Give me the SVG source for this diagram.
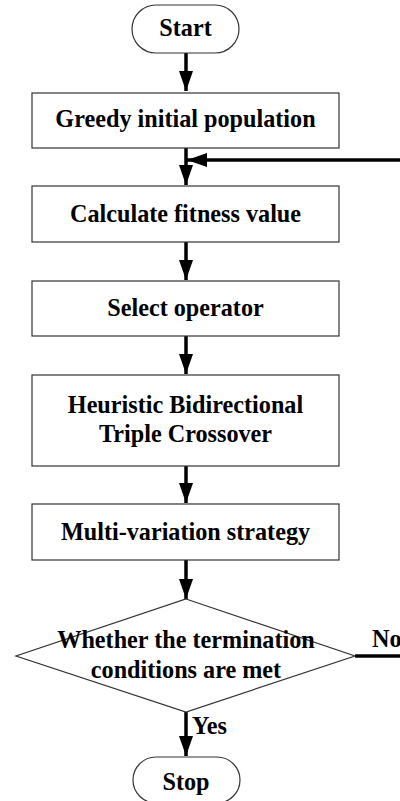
<svg xmlns="http://www.w3.org/2000/svg" width="400" height="801" viewBox="0 0 400 801">
<style>
.box{fill:#fff;stroke:#333;stroke-width:1.2}
.t{font-family:"Liberation Serif","Times New Roman",serif;font-weight:bold;font-size:24.2px;fill:#000;text-anchor:middle}
.lbl{font-family:"Liberation Serif","Times New Roman",serif;font-weight:bold;font-size:24.2px;fill:#000}
.c{fill:none;stroke:#000;stroke-width:3.5}
</style>
<defs>
<marker id="ah" markerUnits="userSpaceOnUse" markerWidth="20" markerHeight="14" refX="20" refY="7" orient="auto">
<path d="M0,0 L20,7 L0,14 z" fill="#000"/>
</marker>
</defs>
<rect width="400" height="801" fill="#fff"/>
<g id="connectors">
<line class="c" x1="186" y1="53" x2="186" y2="91" marker-end="url(#ah)"/>
<line class="c" x1="186" y1="148" x2="186" y2="185" marker-end="url(#ah)"/>
<line class="c" x1="402" y1="160" x2="187" y2="160" marker-end="url(#ah)"/>
<line class="c" x1="186" y1="242" x2="186" y2="280" marker-end="url(#ah)"/>
<line class="c" x1="186" y1="336" x2="186" y2="374" marker-end="url(#ah)"/>
<line class="c" x1="186" y1="466" x2="186" y2="503" marker-end="url(#ah)"/>
<line class="c" x1="186" y1="560" x2="186" y2="599" marker-end="url(#ah)"/>
<line class="c" x1="186" y1="712" x2="186" y2="756" marker-end="url(#ah)"/>
<line class="c" x1="355" y1="656" x2="402" y2="656"/>
<text class="lbl" x="372" y="647">No</text>
<text class="lbl" x="192" y="734">Yes</text>
</g>
<g id="start">
<rect class="box" x="132" y="5" width="107" height="48" rx="24" ry="24"/>
<text class="t" x="185.5" y="36">Start</text>
</g>
<g id="greedy">
<rect class="box" x="32" y="93" width="307" height="55"/>
<text class="t" x="185.5" y="127">Greedy initial population</text>
</g>
<g id="fitness">
<rect class="box" x="32" y="186" width="307" height="56"/>
<text class="t" x="185.5" y="222">Calculate fitness value</text>
</g>
<g id="select">
<rect class="box" x="32" y="281" width="307" height="55"/>
<text class="t" x="185.5" y="316">Select operator</text>
</g>
<g id="crossover">
<rect class="box" x="32" y="375" width="307" height="91"/>
<text class="t" x="185.5" y="413">Heuristic Bidirectional</text>
<text class="t" x="185.5" y="442">Triple Crossover</text>
</g>
<g id="mutation">
<rect class="box" x="32" y="504" width="307" height="56"/>
<text class="t" x="185.5" y="540">Multi-variation strategy</text>
</g>
<g id="decision">
<polygon class="box" points="186,599 355,656 186,712 16,656"/>
<text class="t" x="186" y="648">Whether the termination</text>
<text class="t" x="186" y="678">conditions are met</text>
</g>
<g id="stop">
<rect class="box" x="133" y="757" width="107" height="46" rx="23" ry="23"/>
<text class="t" x="186" y="790">Stop</text>
</g>
</svg>
